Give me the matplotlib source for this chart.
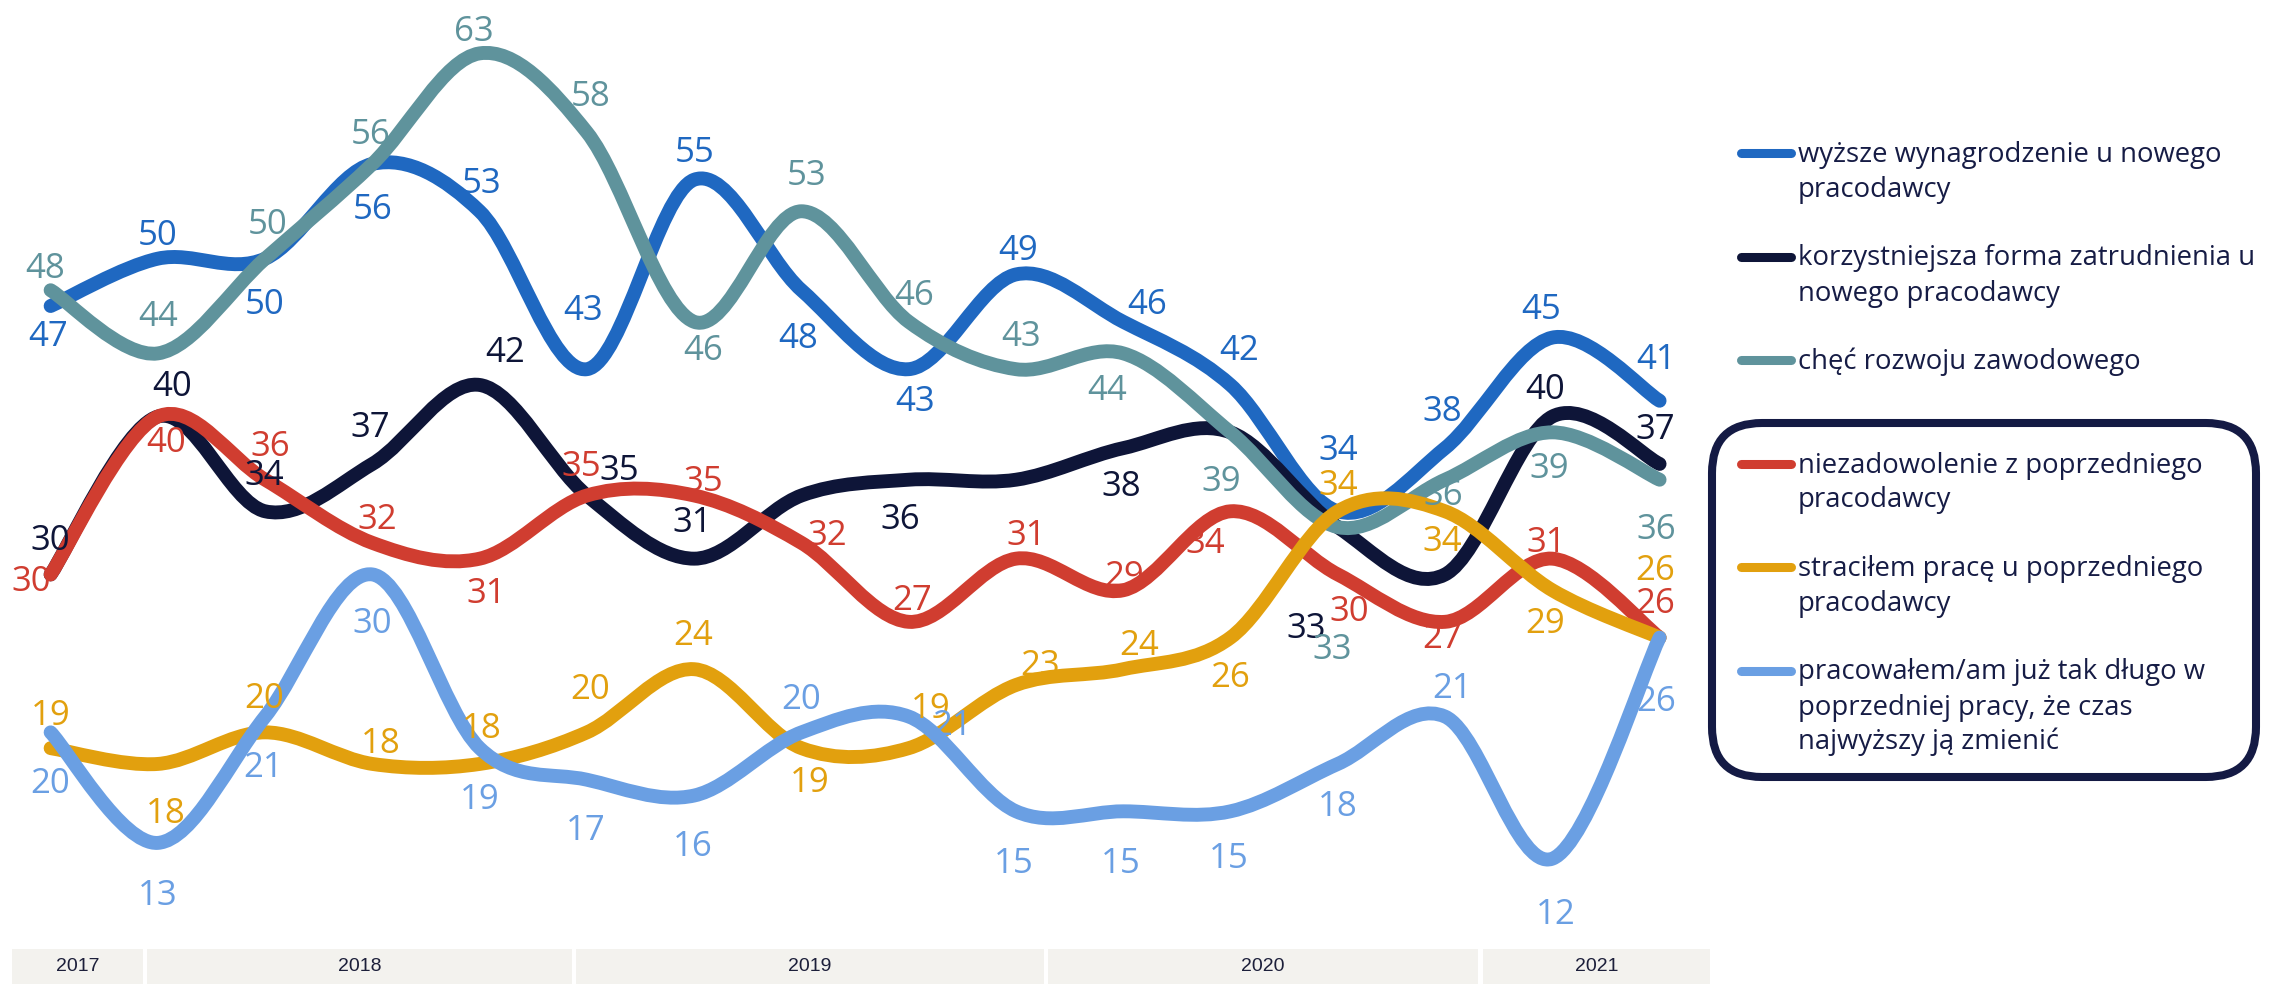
import matplotlib
matplotlib.use('Agg')
import matplotlib.pyplot as plt
from matplotlib.path import Path
from matplotlib.patches import PathPatch, FancyBboxPatch, Rectangle

plt.rcParams['font.family'] = ['Open Sans', 'DejaVu Sans']

# --- data (16 survey waves) ---
waves = list(range(16))
years = ['2017', '2018', '2019', '2020', '2021']
year_edges = [-0.36, 0.88, 4.88, 9.28, 13.33, 15.47]

wynagrodzenie = [47, 50, 50, 56, 53, 43, 55, 48, 43, 49, 46, 42, 34, 38, 45, 41]
forma = [30, 40, 34, 37, 42, 35, 31, 35, 36, 36, 38, 39, 33, 30, 40, 37]
rozwoj = [48, 44, 50, 56, 63, 58, 46, 53, 46, 43, 44, 39, 33, 36, 39, 36]
niezadowolenie = [30, 40, 36, 32, 31, 35, 35, 32, 27, 31, 29, 34, 30, 27, 31, 26]
stracilem = [19, 18, 20, 18, 18, 20, 24, 19, 19, 23, 24, 26, 34, 34, 29, 26]
dlugo = [20, 13, 21, 30, 19, 17, 16, 20, 21, 15, 15, 15, 18, 21, 12, 26]

names = [
    ['wyższe wynagrodzenie u nowego', 'pracodawcy'],
    ['korzystniejsza forma zatrudnienia u', 'nowego pracodawcy'],
    ['chęć rozwoju zawodowego'],
    ['niezadowolenie z poprzedniego', 'pracodawcy'],
    ['straciłem pracę u poprzedniego', 'pracodawcy'],
    ['pracowałem/am już tak długo w', 'poprzedniej pracy, że czas', 'najwyższy ją zmienić'],
]
colors = ['#1F68C1', '#0E1538', '#5F939C', '#D03D30', '#E2A00E', '#6A9FE3']

# label offsets in pixels (dx, dy down), None = no label
off_wyn = [(-2, 27), (0, -26), (-1, 43), (0, 43), (2, -31), (-4, -62), (0, -30), (-3, 45),
           (6, 29), (2, -27), (24, -20), (9, -37), (0, -64), (-3, -40), (-11, -31), (-3, -44)]
off_for = [(0, -37), (14, -33), (-1, -39), (-2, -39), (25, -35), (32, -28), (-2, -39), None,
           (-8, 37), None, (-2, 35), None, (-32, 98), None, (-7, -30), (-4, -37)]
off_roz = [(-5, -25), (0, -40), (2, -37), (-2, -32), (-6, -25), (4, -39), (9, 26), (5, -39),
           (5, -29), (5, -36), (-16, 34), (-9, 46), (-6, 119), (-2, 13), (-3, 33), (-3, 47)]
off_nie = [(-19, 4), (8, 23), (5, -36), (5, -26), (7, 32), (-6, -32), (9, -17), (26, -10),
           (3, -24), (10, -26), (1, -17), (-25, 29), (11, 34), (-3, 14), (-6, -19), (-4, -37)]
off_str = [(0, -36), (8, 47), (-1, -37), (8, -23), (2, -38), (3, -46), (-1, -37), (8, 31),
           (22, -43), (24, -22), (16, -27), (0, 37), (0, -29), (-3, 27), (-7, 30), (-4, -70)]
off_dlu = [(0, 48), (0, 50), (-2, 48), (0, 46), (0, 48), (-1, 48), (-1, 48), (0, -36),
           (43, 6), (-2, 49), (-3, 49), (-2, 44), (0, 40), (7, -31), (3, 53), (-3, 61)]

series = [wynagrodzenie, forma, rozwoj, niezadowolenie, stracilem, dlugo]
offsets = [off_wyn, off_for, off_roz, off_nie, off_str, off_dlu]


def smooth_path(xs, ys):
    # excel-like smoothed line: cubic bezier through every point
    n = len(xs)
    verts = [(xs[0], ys[0])]
    codes = [Path.MOVETO]
    for i in range(n - 1):
        i0 = max(i - 1, 0)
        i3 = min(i + 2, n - 1)
        c1 = (xs[i] + (xs[i + 1] - xs[i0]) / 6, ys[i] + (ys[i + 1] - ys[i0]) / 6)
        c2 = (xs[i + 1] - (xs[i3] - xs[i]) / 6, ys[i + 1] - (ys[i3] - ys[i]) / 6)
        verts += [c1, c2, (xs[i + 1], ys[i + 1])]
        codes += [Path.CURVE4] * 3
    return Path(verts, codes)


fig = plt.figure(figsize=(22.72, 9.84), dpi=100)
ax = fig.add_axes([12 / 2272, 35 / 984, 1698 / 2272, 949 / 984])
ax.set_xlim(year_edges[0], year_edges[-1])
ax.set_ylim(6.28, 66.38)
ax.axis('off')

label_size = 25
for k, (vals, col, offs) in enumerate(zip(series, colors, offsets)):
    patch = PathPatch(smooth_path(waves, vals), facecolor='none', edgecolor=col,
                      lw=10, capstyle='round', joinstyle='round', zorder=2 + k)
    ax.add_patch(patch)
    for i, v in enumerate(vals):
        if offs[i] is None:
            continue
        dx, dy = offs[i]
        ax.annotate(str(v), (i, v), xytext=(dx, -dy - 12.5), textcoords='offset pixels',
                    ha='center', va='baseline', fontsize=label_size, color=col, zorder=20)

# year band
bx = fig.add_axes([12 / 2272, 0, 1698 / 2272, 35 / 984])
bx.set_xlim(year_edges[0], year_edges[-1])
bx.set_ylim(0, 1)
bx.axis('off')
for j, y in enumerate(years):
    a = year_edges[j] + (0.0 if j == 0 else 0.02)
    b = year_edges[j + 1] - (0.0 if j == len(years) - 1 else 0.02)
    bx.add_patch(Rectangle((a, 0), b - a, 1, facecolor='#F3F2EE', edgecolor='none'))
    bx.text((a + b) / 2, 0.5, y, ha='center', va='center', fontsize=14,
            family=['Liberation Sans', 'DejaVu Sans'], color='#1C1F3A')

# legend
lax = fig.add_axes([0, 0, 1, 1])
lax.set_xlim(0, 2272)
lax.set_ylim(984, 0)
lax.axis('off')
lax.patch.set_alpha(0)
text_col = '#161C45'
for k, (lines, col) in enumerate(zip(names, colors)):
    yc = 153 + 103.5 * k
    lax.plot([1741, 1791], [yc, yc], color=col, lw=6.5, solid_capstyle='round')
    for m, line in enumerate(lines):
        lax.text(1798, yc + 9 + 35 * m, line, ha='left', va='baseline',
                 fontsize=19.8, color=text_col)
lax.add_patch(FancyBboxPatch((1712, 423), 544, 354,
                             boxstyle='round,pad=0,rounding_size=50',
                             facecolor='none', edgecolor='#141A44', lw=5.8))

fig.savefig('out.png', dpi=100)
